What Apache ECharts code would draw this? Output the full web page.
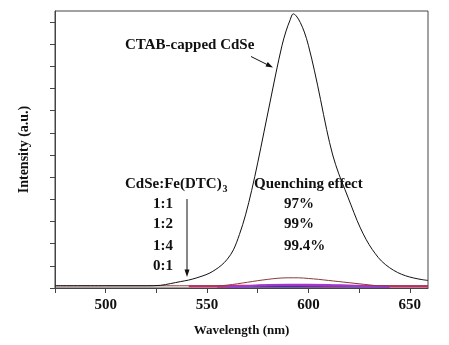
<!DOCTYPE html>
<html>
<head>
<meta charset="utf-8">
<script src="https://cdn.jsdelivr.net/npm/echarts@6/dist/echarts.min.js"></script>
<style>
  html, body { margin: 0; padding: 0; background: #fff; }
  #chart { width: 449px; height: 345px; }
</style>
</head>
<body>
<div id="chart"></div>
<script>
// Photoluminescence spectra: CTAB-capped CdSe and its mixtures with Fe(DTC)3
const ctabWavelength = [475, 500, 520, 527, 532, 537, 541, 545, 548, 551, 554, 557, 560, 563, 566, 569, 572, 575, 578, 581, 584, 587, 589, 591, 592.5, 594, 596, 598, 600, 603, 606, 609, 612, 615, 618, 621, 624, 627, 630, 633, 636, 640, 644, 648, 652, 656, 659];
const ctabIntensity  = [0.10, 0.10, 0.10, 0.12, 0.20, 0.29, 0.36, 0.46, 0.55, 0.66, 0.82, 1.02, 1.30, 1.72, 2.42, 3.30, 4.40, 5.65, 7.00, 8.35, 9.70, 10.95, 11.60, 12.10, 12.37, 12.28, 11.98, 11.55, 10.95, 9.80, 8.50, 7.15, 6.00, 5.15, 4.45, 3.75, 3.05, 2.45, 1.95, 1.55, 1.22, 0.92, 0.70, 0.55, 0.45, 0.38, 0.34];

const ratio11Wavelength = [475, 500, 530, 555, 560, 565, 570, 575, 580, 585, 590, 595, 600, 605, 610, 615, 620, 625, 630, 635, 645, 659];
const ratio11Intensity  = [0.10, 0.10, 0.10, 0.10, 0.13, 0.19, 0.26, 0.33, 0.39, 0.44, 0.46, 0.46, 0.43, 0.39, 0.34, 0.29, 0.24, 0.19, 0.14, 0.10, 0.10, 0.10];

const ratio12Wavelength = [541, 555, 565, 575, 585, 595, 605, 615, 625, 635, 645, 659];
const ratio12Intensity  = [0.08, 0.08, 0.10, 0.11, 0.12, 0.12, 0.11, 0.10, 0.10, 0.08, 0.08, 0.08];

const ratio14Wavelength = [560, 570, 575, 580, 590, 600, 610, 618, 625, 640];
const ratio14Intensity  = [0.06, 0.08, 0.11, 0.14, 0.15, 0.15, 0.14, 0.11, 0.08, 0.06];

const ratio01Wavelength = [555, 560, 600, 635, 640];
const ratio01Intensity  = [0.07, 0.07, 0.07, 0.07, 0.07];

const xTicks = [475, 500, 525, 550, 575, 600, 625, 650];
const xLabels = [500, 550, 600, 650];
const yTicks = [0, 1, 2, 3, 4, 5, 6, 7, 8, 9, 10, 11, 12];

const zip = (xs, ys) => xs.map((x, i) => [x, ys[i]]);

const serif = '"Liberation Serif", "Times New Roman", serif';
const ink = '#111';

const chart = echarts.init(document.getElementById('chart'), null, { renderer: 'canvas' });

function lineSeries(name, data, color, width, z) {
  return {
    name, type: 'line', data, symbol: 'none', smooth: 0.35, z,
    lineStyle: { color, width }, silent: true, animation: false
  };
}

function txt(text, x, y, size, extra) {
  return Object.assign({
    type: 'text', x, y, silent: true,
    style: { text, font: 'bold ' + size + 'px ' + serif, fill: ink, textVerticalAlign: 'middle', textAlign: 'left' }
  }, extra || {});
}

chart.setOption({
  animation: false,
  backgroundColor: '#fff',
  grid: { left: 55, right: 21, top: 11, bottom: 57, show: true, borderColor: '#444', borderWidth: 1, containLabel: false },
  xAxis: {
    type: 'value', min: 475, max: 659, interval: 25,
    name: 'Wavelength (nm)', nameLocation: 'middle', nameGap: 36,
    nameTextStyle: { fontFamily: serif, fontWeight: 'bold', fontSize: 13, color: ink },
    axisLine: { show: true, lineStyle: { color: '#444', width: 1 } },
    axisTick: { show: true, inside: false, length: 5, lineStyle: { color: '#444' }, customValues: xTicks },
    axisLabel: {
      show: true, margin: 10, fontFamily: serif, fontWeight: 'bold', fontSize: 15, color: ink,
      customValues: xLabels,
      formatter: v => (xLabels.indexOf(v) >= 0 ? String(v) : '')
    },
    splitLine: { show: false }
  },
  yAxis: {
    type: 'value', min: 0, max: 12.5, interval: 1,
    name: 'Intensity (a.u.)', nameLocation: 'middle', nameGap: 24,
    nameTextStyle: { fontFamily: serif, fontWeight: 'bold', fontSize: 14, color: ink },
    axisLine: { show: true, lineStyle: { color: '#444', width: 1 } },
    axisTick: { show: true, inside: false, length: 5, lineStyle: { color: '#444' }, customValues: yTicks },
    axisLabel: { show: false },
    splitLine: { show: false }
  },
  series: [
    lineSeries('0:1', zip(ratio01Wavelength, ratio01Intensity), '#2a2aa8', 2, 2),
    lineSeries('1:4', zip(ratio14Wavelength, ratio14Intensity), '#9a3ad0', 2, 3),
    lineSeries('1:2', zip(ratio12Wavelength, ratio12Intensity), '#e8207a', 2, 2),
    lineSeries('1:1', zip(ratio11Wavelength, ratio11Intensity), '#8a3a3a', 1, 4),
    lineSeries('CTAB-capped CdSe', zip(ctabWavelength, ctabIntensity), '#111', 1, 5)
  ],
  graphic: [
    txt('CTAB-capped CdSe', 125, 45.5, 15),
    { type: 'polyline', silent: true, shape: { points: [[251, 56.5], [268, 65]] }, style: { stroke: ink, lineWidth: 1, fill: null } },
    { type: 'polygon', silent: true, shape: { points: [[273, 67.5], [265.5, 66.5], [267.7, 62.1]] }, style: { fill: ink } },

    txt('CdSe:Fe(DTC)', 125, 184, 15),
    txt('3', 222.5, 189.5, 10),
    txt('Quenching effect', 254, 184, 15),

    txt('1:1', 153, 204, 15),
    txt('1:2', 153, 224.5, 15),
    txt('1:4', 153, 246, 15),
    txt('0:1', 153, 266, 15),

    txt('97%', 284, 204, 15),
    txt('99%', 284, 224.5, 15),
    txt('99.4%', 284, 246, 15),

    { type: 'polyline', silent: true, shape: { points: [[187, 199], [187, 271]] }, style: { stroke: ink, lineWidth: 1, fill: null } },
    { type: 'polygon', silent: true, shape: { points: [[187, 277], [184.5, 269.5], [189.5, 269.5]] }, style: { fill: ink } }
  ]
});
</script>
</body>
</html>
